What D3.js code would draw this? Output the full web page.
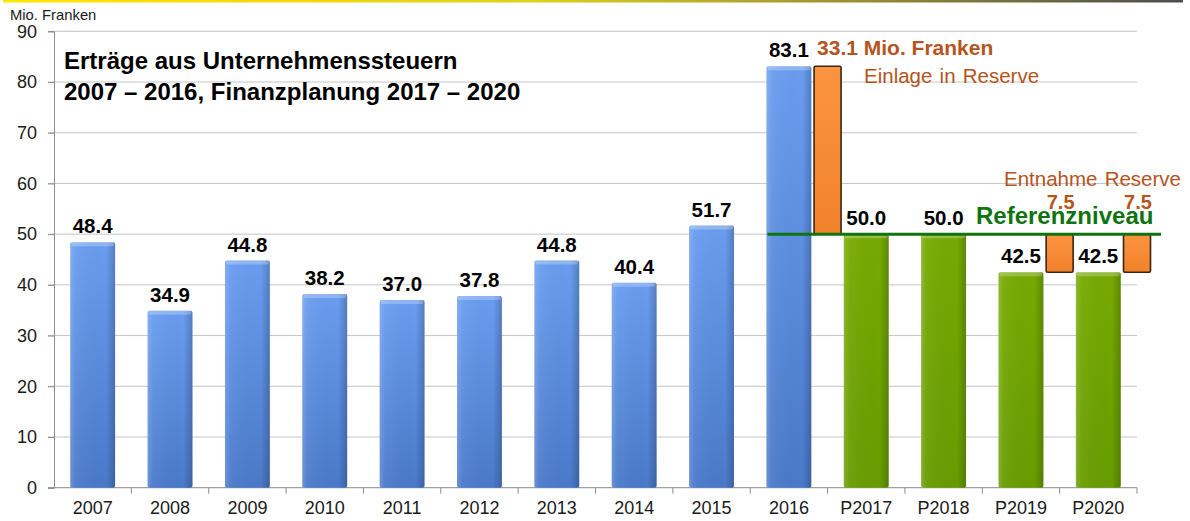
<!DOCTYPE html>
<html>
<head>
<meta charset="utf-8">
<script src="https://cdn.jsdelivr.net/npm/d3@7"></script>
<style>
  html, body { margin: 0; padding: 0; background: #fff; }
  svg { display: block; font-family: "Liberation Sans", Arial, sans-serif; }
</style>
</head>
<body>
<script>
// DATA
const categories = ['2007', '2008', '2009', '2010', '2011', '2012', '2013', '2014', '2015', '2016', 'P2017', 'P2018', 'P2019', 'P2020'];
const values = [48.4, 34.9, 44.8, 38.2, 37.0, 37.8, 44.8, 40.4, 51.7, 83.1, 50.0, 50.0, 42.5, 42.5];
const planned = ['P2017', 'P2018', 'P2019', 'P2020'];
const reserveCats = ['2016', 'P2019', 'P2020'];
const reserveFrom = [50.0, 42.5, 42.5];
const reserveTo = [83.1, 50.0, 50.0];
const reserveLabels = ['33.1', '7.5', '7.5'];
const referenceLevel = 50;
const yTicks = [0, 10, 20, 30, 40, 50, 60, 70, 80, 90];

window.addEventListener('load', function () {
    //
    // SIZE
    const WIDTH = 1190;
    const HEIGHT = 521;
    const X_LEFT = 54;
    const X_RIGHT = 1137;
    const Y_TOP = 31.3;
    const Y_BOTTOM = 487.7;
    const BROWN = '#b5541c';
    const REF_GREEN = '#0f730f';

    let svg = d3.select('body')
        .append('svg')
        .attr('width', WIDTH)
        .attr('height', HEIGHT);

    let defs = svg.append('defs');

    // top strip gradient
    let strip = defs.append('linearGradient').attr('id', 'strip');
    strip.append('stop').attr('offset', '0%').attr('stop-color', '#ffe600');
    strip.append('stop').attr('offset', '45%').attr('stop-color', '#e2cf1c');
    strip.append('stop').attr('offset', '100%').attr('stop-color', '#4d4d4d');

    // bar gradients
    function vGrad(id, top, bottom) {
        let g = defs.append('linearGradient').attr('id', id)
            .attr('x1', 0).attr('y1', 0).attr('x2', 0).attr('y2', 1);
        g.append('stop').attr('offset', '0%').attr('stop-color', top);
        g.append('stop').attr('offset', '100%').attr('stop-color', bottom);
    }
    vGrad('blue', '#6a9df0', '#4a79c9');
    vGrad('green', '#76aa02', '#679c00');
    vGrad('orange', '#fb9440', '#f2822a');

    let shade = defs.append('linearGradient').attr('id', 'shade');
    shade.append('stop').attr('offset', '0%').attr('stop-color', '#fff').attr('stop-opacity', 0.18);
    shade.append('stop').attr('offset', '12%').attr('stop-color', '#fff').attr('stop-opacity', 0.05);
    shade.append('stop').attr('offset', '80%').attr('stop-color', '#000').attr('stop-opacity', 0.0);
    shade.append('stop').attr('offset', '100%').attr('stop-color', '#000').attr('stop-opacity', 0.2);

    svg.append('rect')
        .attr('x', 3).attr('y', 0)
        .attr('width', 1180).attr('height', 2.5)
        .attr('fill', 'url(#strip)');

    //
    // SCALES
    let xSlot = d3.scaleBand().domain(categories).range([X_LEFT, X_RIGHT]);
    let xBar = d3.scaleBand().domain(categories).range([X_LEFT, X_RIGHT])
        .paddingInner(0.42).paddingOuter(0.21);
    let y = d3.scaleLinear().domain([0, 90]).range([Y_BOTTOM, Y_TOP]);

    //
    // GRID
    svg.append('g')
        .selectAll('line')
        .data(yTicks.filter(d => d > 0))
        .enter()
        .append('line')
        .attr('x1', X_LEFT - 6).attr('x2', X_RIGHT)
        .attr('y1', d => y(d)).attr('y2', d => y(d))
        .attr('stroke', '#c4c4c4')
        .attr('stroke-width', 1);

    // Y AXIS
    let yAxis = svg.append('g')
        .attr('transform', 'translate(' + X_LEFT + ',0)')
        .call(d3.axisLeft(y).tickValues(yTicks).tickSize(6).tickPadding(11));
    yAxis.select('.domain').attr('stroke', '#8c8c8c');
    yAxis.selectAll('.tick line').attr('stroke', '#8c8c8c');
    yAxis.selectAll('.tick text')
        .attr('font-size', 18)
        .attr('font-family', '"Liberation Sans", Arial, sans-serif')
        .attr('fill', '#1a1a1a');

    // X AXIS
    let xAxis = svg.append('g')
        .attr('transform', 'translate(0,' + Y_BOTTOM + ')')
        .call(d3.axisBottom(xBar).tickSize(0).tickPadding(14));
    xAxis.select('.domain').remove();
    xAxis.selectAll('.tick text')
        .attr('font-size', 18)
        .attr('font-family', '"Liberation Sans", Arial, sans-serif')
        .attr('fill', '#1a1a1a');
    svg.append('line')
        .attr('x1', X_LEFT - 6).attr('x2', X_RIGHT)
        .attr('y1', Y_BOTTOM).attr('y2', Y_BOTTOM)
        .attr('stroke', '#8c8c8c');
    svg.append('g')
        .selectAll('line')
        .data(categories)
        .enter()
        .append('line')
        .attr('x1', d => xSlot(d) + xSlot.bandwidth())
        .attr('x2', d => xSlot(d) + xSlot.bandwidth())
        .attr('y1', Y_BOTTOM).attr('y2', Y_BOTTOM + 6)
        .attr('stroke', '#8c8c8c');

    //
    // MAIN BARS
    let bars = svg.append('g')
        .selectAll('g')
        .data(categories)
        .enter()
        .append('g');
    bars.append('rect')
        .attr('x', d => xBar(d))
        .attr('y', (d, i) => y(values[i]))
        .attr('width', xBar.bandwidth())
        .attr('height', (d, i) => y(0) - y(values[i]))
        .attr('rx', 2)
        .attr('fill', d => planned.includes(d) ? 'url(#green)' : 'url(#blue)');
    bars.append('rect')
        .attr('x', d => xBar(d))
        .attr('y', (d, i) => y(values[i]))
        .attr('width', xBar.bandwidth())
        .attr('height', (d, i) => y(0) - y(values[i]))
        .attr('rx', 2)
        .attr('fill', 'url(#shade)');
    bars.append('rect')
        .attr('x', d => xBar(d) + 1)
        .attr('y', (d, i) => y(values[i]))
        .attr('width', xBar.bandwidth() - 2)
        .attr('height', 4)
        .attr('rx', 2)
        .attr('fill', '#fff')
        .attr('opacity', 0.25);

    // value labels
    svg.append('g')
        .selectAll('text')
        .data(categories)
        .enter()
        .append('text')
        .attr('x', d => xBar(d) + xBar.bandwidth() / 2)
        .attr('y', (d, i) => y(values[i]) - 9)
        .attr('text-anchor', 'middle')
        .attr('font-size', 20.5)
        .attr('font-weight', 'bold')
        .attr('fill', '#000')
        .text((d, i) => values[i].toFixed(1));

    //
    // RESERVE BARS
    const RES_W = 27;
    svg.append('g')
        .selectAll('rect')
        .data(reserveCats)
        .enter()
        .append('rect')
        .attr('x', d => xSlot(d) + xSlot.bandwidth() - RES_W / 2)
        .attr('y', (d, i) => y(reserveTo[i]))
        .attr('width', RES_W)
        .attr('height', (d, i) => y(reserveFrom[i]) - y(reserveTo[i]))
        .attr('rx', 1.5)
        .attr('fill', 'url(#orange)')
        .attr('stroke', '#3b2510')
        .attr('stroke-width', 1.6);

    // REFERENCE LINE
    svg.append('line')
        .attr('x1', xBar('2016') + 1)
        .attr('x2', X_RIGHT + 24)
        .attr('y1', y(referenceLevel)).attr('y2', y(referenceLevel))
        .attr('stroke', REF_GREEN)
        .attr('stroke-width', 3);

    svg.append('text')
        .attr('x', 976).attr('y', y(referenceLevel) - 10)
        .attr('font-size', 24)
        .attr('font-weight', 'bold')
        .attr('fill', REF_GREEN)
        .text('Referenzniveau');

    // reserve annotations
    let c16 = xSlot('2016') + xSlot.bandwidth() - RES_W / 2 + 3;
    svg.append('text')
        .attr('x', c16).attr('y', y(reserveTo[0]) - 11)
        .attr('font-size', 21)
        .attr('font-weight', 'bold')
        .attr('fill', BROWN)
        .text(reserveLabels[0] + ' Mio. Franken');
    svg.append('text')
        .attr('x', 864).attr('y', 82.5)
        .attr('font-size', 20.5)
        .attr('word-spacing', 1.5)
        .attr('fill', BROWN)
        .text('Einlage in Reserve');

    svg.append('g')
        .selectAll('text')
        .data(reserveCats.slice(1))
        .enter()
        .append('text')
        .attr('x', d => xSlot(d) + xSlot.bandwidth() + 1)
        .attr('y', y(referenceLevel) - 25)
        .attr('text-anchor', 'middle')
        .attr('font-size', 20)
        .attr('font-weight', 'bold')
        .attr('fill', BROWN)
        .text((d, i) => reserveLabels[i + 1]);
    svg.append('text')
        .attr('x', 1004).attr('y', 186)
        .attr('font-size', 20.5)
        .attr('word-spacing', 1.5)
        .attr('fill', BROWN)
        .text('Entnahme Reserve');

    //
    // TITLES
    svg.append('text')
        .attr('x', 10).attr('y', 19.5)
        .attr('font-size', 14.8)
        .attr('fill', '#1a1a1a')
        .text('Mio. Franken');
    let title = svg.append('text')
        .attr('font-size', 24)
        .attr('font-weight', 'bold')
        .attr('fill', '#000');
    title.append('tspan').attr('x', 64).attr('y', 69).text('Erträge aus Unternehmenssteuern');
    title.append('tspan').attr('x', 64).attr('y', 100).text('2007 – 2016, Finanzplanung 2017 – 2020');
}, false);
</script>
</body>
</html>
